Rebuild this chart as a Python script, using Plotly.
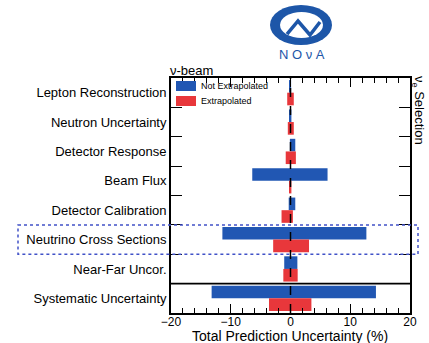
import plotly.graph_objects as go

categories = ["Lepton Reconstruction", "Neutron Uncertainty", "Detector Response",
              "Beam Flux", "Detector Calibration", "Neutrino Cross Sections",
              "Near-Far Uncor.", "Systematic Uncertainty"]
not_extrap_low = [-0.1, -0.15, -0.1, -6.4, -0.3, -11.4, -1.05, -13.2]
not_extrap_high = [0.1, 0.15, 0.8, 6.2, 0.8, 12.7, 1.15, 14.3]
extrap_low = [-0.55, -0.45, -0.8, -0.1, -1.5, -2.9, -1.2, -3.6]
extrap_high = [0.55, 0.55, 0.9, 0.15, 0.4, 3.1, 1.2, 3.5]
series_names = ["Not Extrapolated", "Extrapolated"]
x_ticks = [-20, -10, 0, 10, 20]

BLUE = "#2157b3"
RED = "#e8373b"
FONT = "Liberation Sans, Arial, sans-serif"

fig = go.Figure()
fig.add_trace(go.Bar(
    y=categories, x=[h - l for l, h in zip(not_extrap_low, not_extrap_high)],
    base=not_extrap_low, orientation="h", name=series_names[0],
    marker=dict(color=BLUE, line=dict(width=0))))
fig.add_trace(go.Bar(
    y=categories, x=[h - l for l, h in zip(extrap_low, extrap_high)],
    base=extrap_low, orientation="h", name=series_names[1],
    marker=dict(color=RED, line=dict(width=0))))

L, R, T, B = 171, 19, 78, 30
W, H = 429, 343
pw, ph = W - L - R, H - T - B

def px(x):
    return (x - L) / pw

def py(y):
    return (H - B - y) / ph

shapes = []
# zero line
shapes.append(dict(type="line", xref="x", yref="paper", x0=0, x1=0, y0=0, y1=1,
                   line=dict(color="black", width=1.5, dash="dash"), layer="above"))
# separator before total
shapes.append(dict(type="line", xref="paper", yref="y", x0=0, x1=1, y0=6.5, y1=6.5,
                   line=dict(color="black", width=1.8), layer="above"))
# dotted highlight box
shapes.append(dict(type="rect", xref="paper", yref="y", x0=px(18), x1=px(418),
                   y0=4.5, y1=5.5, line=dict(color="#4152c8", width=1.5, dash="dot"),
                   layer="above"))
# legend boxes (manual legend)
for i, col in enumerate([BLUE, RED]):
    shapes.append(dict(type="rect", xref="paper", yref="paper",
                       x0=px(176), x1=px(196), y0=py(91 + 15 * i), y1=py(81 + 15 * i),
                       fillcolor=col, line=dict(width=0)))
# logo
shapes.append(dict(type="circle", xref="paper", yref="paper",
                   x0=px(270), x1=px(332), y0=py(45), y1=py(5),
                   fillcolor="#1d56a8", line=dict(width=0)))
shapes.append(dict(type="circle", xref="paper", yref="paper",
                   x0=px(280), x1=px(323), y0=py(38), y1=py(12),
                   fillcolor="white", line=dict(width=0)))
pts = [(287, 34), (298, 21), (310, 35), (320, 22)]
path = "M " + " L ".join(f"{px(a):.4f},{py(b):.4f}" for a, b in pts)
shapes.append(dict(type="path", xref="paper", yref="paper", path=path,
                   line=dict(color="#1d56a8", width=3.5)))

annotations = [
    dict(text="ν-beam", xref="paper", yref="paper", x=0, y=1, xanchor="left",
         yanchor="bottom", showarrow=False, font=dict(size=13, color="black", family=FONT),
         yshift=-2, xshift=-3),
    dict(text="ν<sub>e</sub> Selection", xref="paper", yref="paper", x=px(419), y=py(110),
         xanchor="center", yanchor="middle", textangle=90, showarrow=False,
         font=dict(size=13, color="black", family=FONT)),
    dict(text="Total Prediction Uncertainty (%)", xref="paper", yref="paper",
         x=px(290), y=py(336), xanchor="center", yanchor="middle", showarrow=False,
         font=dict(size=14, color="black", family=FONT)),
    dict(text="N O ν A", xref="paper", yref="paper", x=px(302), y=py(54),
         xanchor="center", yanchor="middle", showarrow=False,
         font=dict(size=13, color="#1d56a8", family=FONT)),
]
for i, name in enumerate(series_names):
    annotations.append(dict(text=name, xref="paper", yref="paper", x=px(199),
                            y=py(86 + 15 * i), xanchor="left", yanchor="middle",
                            showarrow=False, font=dict(size=9, color="black", family=FONT)))

fig.update_layout(
    width=W, height=H,
    margin=dict(l=L, r=R, t=T, b=B, autoexpand=False),
    paper_bgcolor="white", plot_bgcolor="white",
    barmode="group", bargap=0.14, bargroupgap=0,
    font=dict(family=FONT, color="black", size=12),
    showlegend=False,
    shapes=shapes, annotations=annotations,
)
fig.update_xaxes(
    range=[-20, 20], tickvals=x_ticks, ticks="inside", ticklen=9, tickwidth=1.2,
    tickcolor="black", showline=True, linecolor="black", linewidth=1.8, mirror="ticks",
    showgrid=False, zeroline=False, tickfont=dict(size=12), ticklabelstandoff=-3,
    minor=dict(dtick=2, ticks="inside", ticklen=5, tickcolor="black", tickwidth=1),
    automargin=False,
)
fig.update_yaxes(
    type="category", categoryorder="array", categoryarray=categories,
    autorange="reversed", tickson="boundaries", ticks="inside", ticklen=11,
    tickwidth=1.2, tickcolor="black", showline=True, linecolor="black", linewidth=1.8,
    mirror="ticks", showgrid=False, zeroline=False, tickfont=dict(size=13),
    automargin=False,
)

fig.write_html("out.html", config={"displayModeBar": False},
               post_script="document.body.style.margin='0';document.body.style.overflow='hidden';")
